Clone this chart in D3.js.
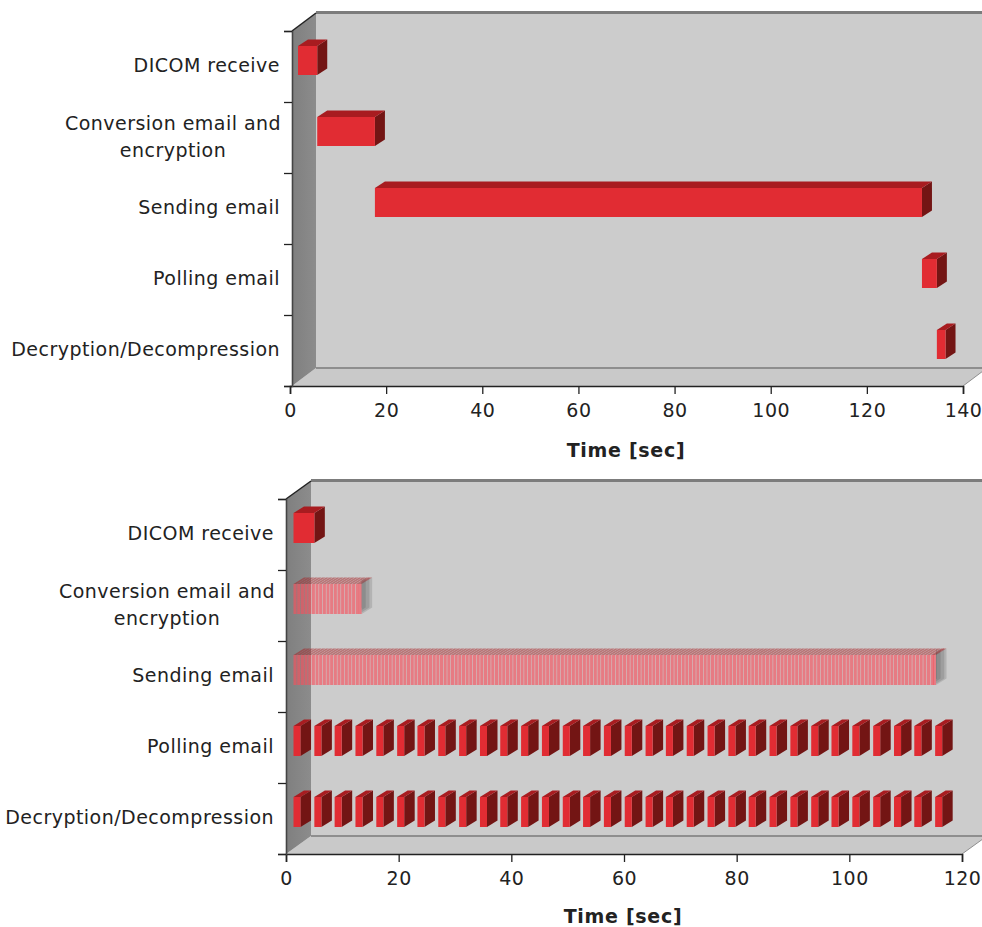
<!DOCTYPE html>
<html>
<head>
<meta charset="utf-8">
<script src="https://cdn.jsdelivr.net/npm/d3@7"></script>
<style>
html, body { margin: 0; padding: 0; background: #fff; }
svg { display: block; }
text { font-family: "DejaVu Sans", sans-serif; fill: #222; }
</style>
</head>
<body>
<svg id="chart" width="982" height="927"></svg>
<script>
// tasks, top to bottom
var categories = ['DICOM receive', 'Conversion email and|encryption', 'Sending email', 'Polling email', 'Decryption/Decompression'];

// top chart, seconds
var topStarts = [0, 4, 16, 129.8, 132.9];
var topEnds = [4, 16, 129.8, 132.9, 134.7];
var topTicks = [0, 20, 40, 60, 80, 100, 120, 140];

// bottom chart, seconds
var bottomTicks = [0, 20, 40, 60, 80, 100, 120];
var dicomStarts = [0];
var dicomLength = 3.7;
var conversionStarts = [0,.65,1.3,1.95,2.6,3.25,3.9,4.55,5.2,5.85,6.5,7.15,7.8,8.45,9.1,9.75,10.4,11.05,11.55];
var sendingStarts = [
  0,.65,1.3,1.95,2.6,3.25,3.9,4.55,5.2,5.85,6.5,7.15,7.8,8.45,9.1,9.75,10.4,11.05,11.7,12.35,
  13,13.65,14.3,14.95,15.6,16.25,16.9,17.55,18.2,18.85,19.5,20.15,20.8,21.45,22.1,22.75,23.4,24.05,24.7,25.35,
  26,26.65,27.3,27.95,28.6,29.25,29.9,30.55,31.2,31.85,32.5,33.15,33.8,34.45,35.1,35.75,36.4,37.05,37.7,38.35,
  39,39.65,40.3,40.95,41.6,42.25,42.9,43.55,44.2,44.85,45.5,46.15,46.8,47.45,48.1,48.75,49.4,50.05,50.7,51.35,
  52,52.65,53.3,53.95,54.6,55.25,55.9,56.55,57.2,57.85,58.5,59.15,59.8,60.45,61.1,61.75,62.4,63.05,63.7,64.35,
  65,65.65,66.3,66.95,67.6,68.25,68.9,69.55,70.2,70.85,71.5,72.15,72.8,73.45,74.1,74.75,75.4,76.05,76.7,77.35,
  78,78.65,79.3,79.95,80.6,81.25,81.9,82.55,83.2,83.85,84.5,85.15,85.8,86.45,87.1,87.75,88.4,89.05,89.7,90.35,
  91,91.65,92.3,92.95,93.6,94.25,94.9,95.55,96.2,96.85,97.5,98.15,98.8,99.45,100.1,100.75,101.4,102.05,102.7,103.35,
  104,104.65,105.3,105.95,106.6,107.25,107.9,108.55,109.2,109.85,110.5,111.15,111.8,112.45,113.1,113.5
];
var pollingStarts = [0,3.7,7.3,11,14.7,18.4,22,25.7,29.4,33.1,36.7,40.4,44.1,47.8,51.4,55.1,58.8,62.5,66.1,69.8,73.5,77.2,80.8,84.5,88.2,91.9,95.5,99.2,102.9,106.6,110.2,113.9];
var decryptionStarts = [0,3.7,7.3,11,14.7,18.4,22,25.7,29.4,33.1,36.7,40.4,44.1,47.8,51.4,55.1,58.8,62.5,66.1,69.8,73.5,77.2,80.8,84.5,88.2,91.9,95.5,99.2,102.9,106.6,110.2,113.9];
var stripeLength = 0.55;
var blockLength = 1.25;

var svg = d3.select('#chart');
var rowCount = 0;

function addChart(c) {
  var g = svg.append('g');
  var x = d3.scaleLinear().domain(c.domain).range([c.axisStart, c.right]);
  var y = d3.scaleBand().domain(categories).range([c.top, c.bottom]);
  var dx = c.depthX, dy = c.depthY;

  // back wall, floor, left wall
  g.append('rect').attr('x', c.left + dx).attr('y', c.top - dy).attr('width', 982 - c.left - dx).attr('height', c.bottom - c.top)
    .attr('fill', '#cccccc');
  g.append('line').attr('x1', c.left + dx).attr('x2', 982).attr('y1', c.top - dy - 0.5).attr('y2', c.top - dy - 0.5)
    .attr('stroke', '#7c7c7c').attr('stroke-width', 3);
  g.append('path')
    .attr('d', d3.line()([[c.left, c.bottom], [c.right, c.bottom], [c.right + dx, c.bottom - dy], [c.left + dx, c.bottom - dy]]) + 'Z')
    .attr('fill', '#c9c9c9');
  g.append('line').attr('x1', c.left + dx).attr('x2', 982).attr('y1', c.bottom - dy).attr('y2', c.bottom - dy)
    .attr('stroke', '#8e8e8e').attr('stroke-width', 2);
  g.append('line').attr('x1', c.right).attr('x2', c.right + dx).attr('y1', c.bottom).attr('y2', c.bottom - dy)
    .attr('stroke', '#8e8e8e').attr('stroke-width', 1);
  g.append('path')
    .attr('d', d3.line()([[c.left, c.top], [c.left + dx, c.top - dy], [c.left + dx, c.bottom - dy], [c.left, c.bottom]]) + 'Z')
    .attr('fill', 'url(#wall)');
  g.append('line').attr('x1', c.left).attr('x2', c.left + dx).attr('y1', c.top).attr('y2', c.top - dy)
    .attr('stroke', '#222').attr('stroke-width', 1.5);

  // bars
  c.rows.forEach(function(row, i) {
    var cat = categories[i];
    var rowG = g.append('g');
    var y0 = y(cat) + c.barPad, h = y.bandwidth() - c.barPad - c.barPadBottom;
    var bx = c.barDepthX, by = c.barDepthY;
    var w = function(d) { return x(d[1]) - x(d[0]); };
    var boxes = rowG.selectAll('g').data(row.spans).enter().append('g')
      .attr('transform', function(d) { return 'translate(' + (x(d[0]) + c.barShift) + ',0)'; });
    var sides = boxes.append('path')
      .attr('d', function(d) { return d3.line()([[w(d), y0], [w(d) + bx, y0 - by], [w(d) + bx, y0 + h - by], [w(d), y0 + h]]) + 'Z'; });
    if (row.pale) {
      // side faces only show past the end of a pale bar
      var id = 'rowclip' + (rowCount++);
      var last = x(row.spans[row.spans.length - 1][1]) + c.barShift;
      svg.select('defs').append('clipPath').attr('id', id).append('rect')
        .attr('x', last).attr('y', y0 - by).attr('width', bx + 2).attr('height', h + by);
      var sideG = rowG.append('g').attr('clip-path', 'url(#' + id + ')');
      sides.each(function() { sideG.node().appendChild(this); });
      sides.attr('transform', function(d) { return 'translate(' + (x(d[0]) + c.barShift) + ',0)'; })
        .attr('fill', '#333').attr('fill-opacity', 0.16);
    } else {
      sides.attr('fill', '#731514');
    }
    boxes.append('path')
      .attr('d', function(d) { return d3.line()([[0, y0], [bx, y0 - by], [w(d) + bx, y0 - by], [w(d), y0]]) + 'Z'; })
      .attr('fill', '#a81c20').attr('fill-opacity', row.pale ? 0.5 : 1);
    boxes.append('rect')
      .attr('x', 0).attr('y', y0).attr('width', w).attr('height', h)
      .attr('fill', row.pale ? '#f4505c' : '#e12c33').attr('fill-opacity', row.pale ? 0.66 : 1);
  });

  // axes
  var xAxis = d3.axisBottom(x).tickValues(c.ticks).tickSize(8).tickPadding(10);
  var xG = g.append('g').attr('transform', 'translate(0,' + c.bottom + ')').call(xAxis);
  xG.selectAll('.tick line').attr('stroke', '#222').attr('stroke-width', 1.3);
  xG.select('.domain').attr('stroke', '#222').attr('stroke-width', 1.6);
  xG.selectAll('text').attr('font-size', 19).attr('letter-spacing', 0.5).attr('fill', '#222');

  var edges = d3.scaleLinear().domain([0, categories.length]).range([c.top, c.bottom]);
  var yAxis = d3.axisLeft(edges).tickValues(d3.range(categories.length + 1)).tickFormat('').tickSize(8);
  var yG = g.append('g').attr('transform', 'translate(' + c.left + ',0)').call(yAxis);
  yG.selectAll('.tick line').attr('stroke', '#222').attr('stroke-width', 1.3);
  yG.select('.domain').attr('stroke', '#444').attr('stroke-width', 1.6);

  // category labels
  var labels = g.selectAll('.cat').data(categories).enter().append('text')
    .attr('class', 'cat')
    .attr('font-size', 19)
    .attr('letter-spacing', c.spacing)
    .attr('text-anchor', function(d) { return d.indexOf('|') > -1 ? 'middle' : 'end'; })
    .attr('y', function(d) { return y(d) + y.bandwidth() / 2 + c.labelDy; });
  labels.each(function(d) {
    var lines = d.split('|'), el = d3.select(this);
    var mid = c.labelRight - 107;
    lines.forEach(function(t, i) {
      el.append('tspan')
        .attr('x', lines.length > 1 ? mid : c.labelRight)
        .attr('dy', lines.length > 1 ? (i === 0 ? -13.5 : 27) : 0)
        .text(t);
    });
  });

  g.append('text').attr('x', c.titleX).attr('y', c.titleY).attr('text-anchor', 'middle')
    .attr('font-size', 19).attr('font-weight', 'bold').attr('letter-spacing', 0.7).attr('fill', '#111').text('Time [sec]');
}

var defs = svg.append('defs');
var wall = defs.append('linearGradient').attr('id', 'wall').attr('x1', 0).attr('x2', 1).attr('y1', 0).attr('y2', 0);
wall.append('stop').attr('offset', '0%').attr('stop-color', '#7f7f7f');
wall.append('stop').attr('offset', '100%').attr('stop-color', '#8c8c8c');

function spans(starts, len) {
  return starts.map(function(s) { return [s, s + len]; });
}

addChart({
  domain: [0, 140], ticks: topTicks,
  left: 292, axisStart: 290, right: 963, top: 31, bottom: 386,
  depthX: 24, depthY: 18, barDepthX: 10, barDepthY: 6.5,
  barShift: 8, barPad: 15, barPadBottom: 27,
  labelRight: 280, labelDy: 5.5, spacing: 0.47, titleX: 626, titleY: 457,
  rows: topStarts.map(function(s, i) { return { spans: [[s, topEnds[i]]] }; })
});

addChart({
  domain: [0, 120], ticks: bottomTicks,
  left: 286, axisStart: 286, right: 962, top: 499, bottom: 854,
  depthX: 25, depthY: 18, barDepthX: 10.5, barDepthY: 6.5,
  barShift: 7.5, barPad: 14, barPadBottom: 27,
  labelRight: 274, labelDy: 5.5, spacing: 0.47, titleX: 623, titleY: 923,
  rows: [
    { spans: spans(dicomStarts, dicomLength) },
    { spans: spans(conversionStarts, stripeLength), pale: true },
    { spans: spans(sendingStarts, stripeLength), pale: true },
    { spans: spans(pollingStarts, blockLength) },
    { spans: spans(decryptionStarts, blockLength) }
  ]
});
</script>
</body>
</html>
